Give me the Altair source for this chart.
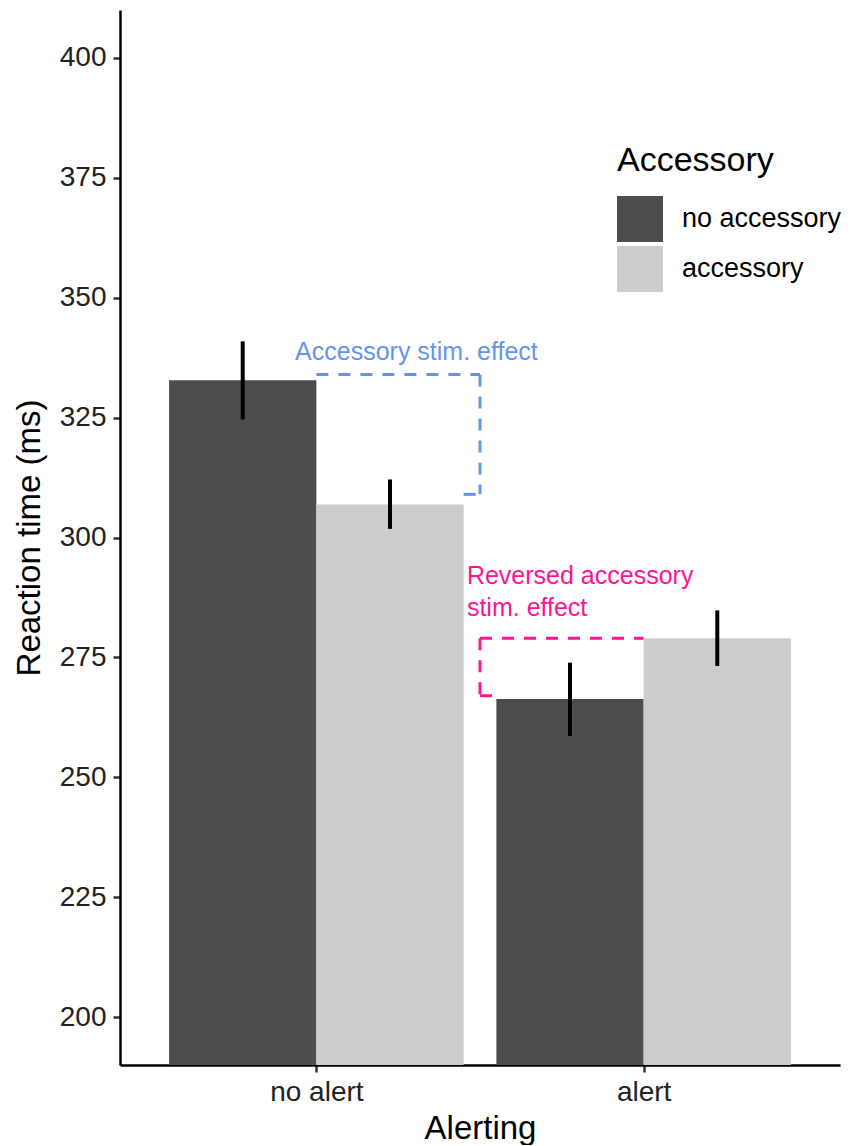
import altair as alt
import pandas as pd

# ---- data ----
alerting = ["no alert", "alert"]
accessory = ["no accessory", "accessory"]
rt_no_acc = [332.8, 266.3]
rt_acc = [306.9, 279.0]
ci_lo_no_acc = [324.6, 258.6]
ci_hi_no_acc = [340.9, 273.9]
ci_lo_acc = [301.8, 273.2]
ci_hi_acc = [312.1, 284.8]

y_ticks = [200, 225, 250, 275, 300, 325, 350, 375, 400]

# bracket segments (x in category units, 1 = "no alert", 2 = "alert")
br_group = ["blue", "blue", "blue", "pink", "pink", "pink"]
br_x = [1.0, 1.5, 1.45, 1.5, 1.5, 1.5]
br_x2 = [1.5, 1.5, 1.5, 2.0, 1.5, 1.54]
br_y = [334, 334, 309, 279, 279, 267]
br_y2 = [334, 309, 309, 279, 267, 267]

ann_text = ["Accessory stim. effect", ["Reversed accessory", "stim. effect"]]
ann_group = ["blue", "pink"]
ann_x = [0.935, 1.46]
ann_y = [337.0, 290.3]

DODGE = 0.45

rows = []
for i, a in enumerate(alerting):
    rows.append(dict(alerting=a, idx=i + 1, side=-1, accessory=accessory[0],
                     rt=rt_no_acc[i], lo=ci_lo_no_acc[i], hi=ci_hi_no_acc[i]))
    rows.append(dict(alerting=a, idx=i + 1, side=1, accessory=accessory[1],
                     rt=rt_acc[i], lo=ci_lo_acc[i], hi=ci_hi_acc[i]))
df = pd.DataFrame(rows)

br = pd.DataFrame(dict(group=br_group, x=br_x, x2=br_x2, y=br_y, y2=br_y2))
ann = pd.DataFrame(dict(text=ann_text, group=ann_group, x=ann_x, y=ann_y))

xscale = alt.Scale(domain=[0.4, 2.6], nice=False, zero=False)
yscale = alt.Scale(domain=[190, 410], nice=False, zero=False)

label_expr = "datum.value == 1 ? '%s' : '%s'" % (alerting[0], alerting[1])

base = alt.Chart(df).transform_calculate(
    center="datum.idx + datum.side * %f / 2" % DODGE,
    left="datum.idx + (datum.side - 1) * %f / 2" % DODGE,
    right="datum.idx + (datum.side + 1) * %f / 2" % DODGE,
)

bars = base.mark_rect(clip=True).encode(
    x=alt.X("left:Q", scale=xscale,
            axis=alt.Axis(values=[1, 2], labelExpr=label_expr, title="Alerting")),
    x2="right:Q",
    y=alt.Y("rt:Q", scale=yscale,
            axis=alt.Axis(values=y_ticks, title="Reaction time (ms)")),
    y2=alt.Y2(datum=0),
    color=alt.Color("accessory:N",
                    scale=alt.Scale(domain=accessory, range=["#4d4d4d", "#cccccc"]),
                    legend=alt.Legend(title="Accessory", orient="none",
                                      legendX=497, legendY=134,
                                      symbolType="square", symbolSize=2116,
                                      symbolStrokeWidth=0, symbolOpacity=1,
                                      titleFontSize=34, labelFontSize=27,
                                      titleFontWeight="normal", titleColor="black",
                                      labelColor="black", titlePadding=18,
                                      rowPadding=4, labelOffset=19, labelLimit=0,
                                      titleFont="Liberation Sans", labelFont="Liberation Sans")),
)

errs = base.mark_rule(color="black", strokeWidth=4).encode(
    x=alt.X("center:Q", scale=xscale),
    y=alt.Y("lo:Q", scale=yscale),
    y2="hi:Q",
)

color_scale = alt.Scale(domain=["blue", "pink"], range=["#6495ED", "#FF1493"])

brackets = alt.Chart(br).mark_rule(strokeWidth=3, strokeDash=[12, 10]).encode(
    x=alt.X("x:Q", scale=xscale),
    x2="x2:Q",
    y=alt.Y("y:Q", scale=yscale),
    y2="y2:Q",
    stroke=alt.Stroke("group:N", scale=color_scale, legend=None),
)

texts = alt.Chart(ann).mark_text(align="left", baseline="alphabetic", fontSize=25,
                                 lineHeight=32, font="Liberation Sans").encode(
    x=alt.X("x:Q", scale=xscale),
    y=alt.Y("y:Q", scale=yscale),
    text="text",
    fill=alt.Fill("group:N", scale=color_scale, legend=None),
)

chart = alt.layer(bars, errs, brackets, texts).resolve_scale(
    color="independent"
).properties(
    width=720, height=1055,
    autosize=alt.AutoSizeParams(type="none"),
    padding={"left": 112, "top": 2, "right": 2, "bottom": 80},
).configure_view(stroke=None).configure_axis(
    grid=False,
    domainColor="black", domainWidth=2.5,
    tickColor="#333333", tickWidth=2.5, tickSize=7,
    labelColor="#222222", labelFontSize=28, labelFont="Liberation Sans",
    titleFontSize=33, titleFont="Liberation Sans", titleFontWeight="normal",
    titleColor="black",
).configure_axisY(titlePadding=13, labelPadding=7).configure_axisX(titlePadding=6, labelPadding=6)

chart.save("out.html", embed_options={"renderer": "svg", "actions": False})
